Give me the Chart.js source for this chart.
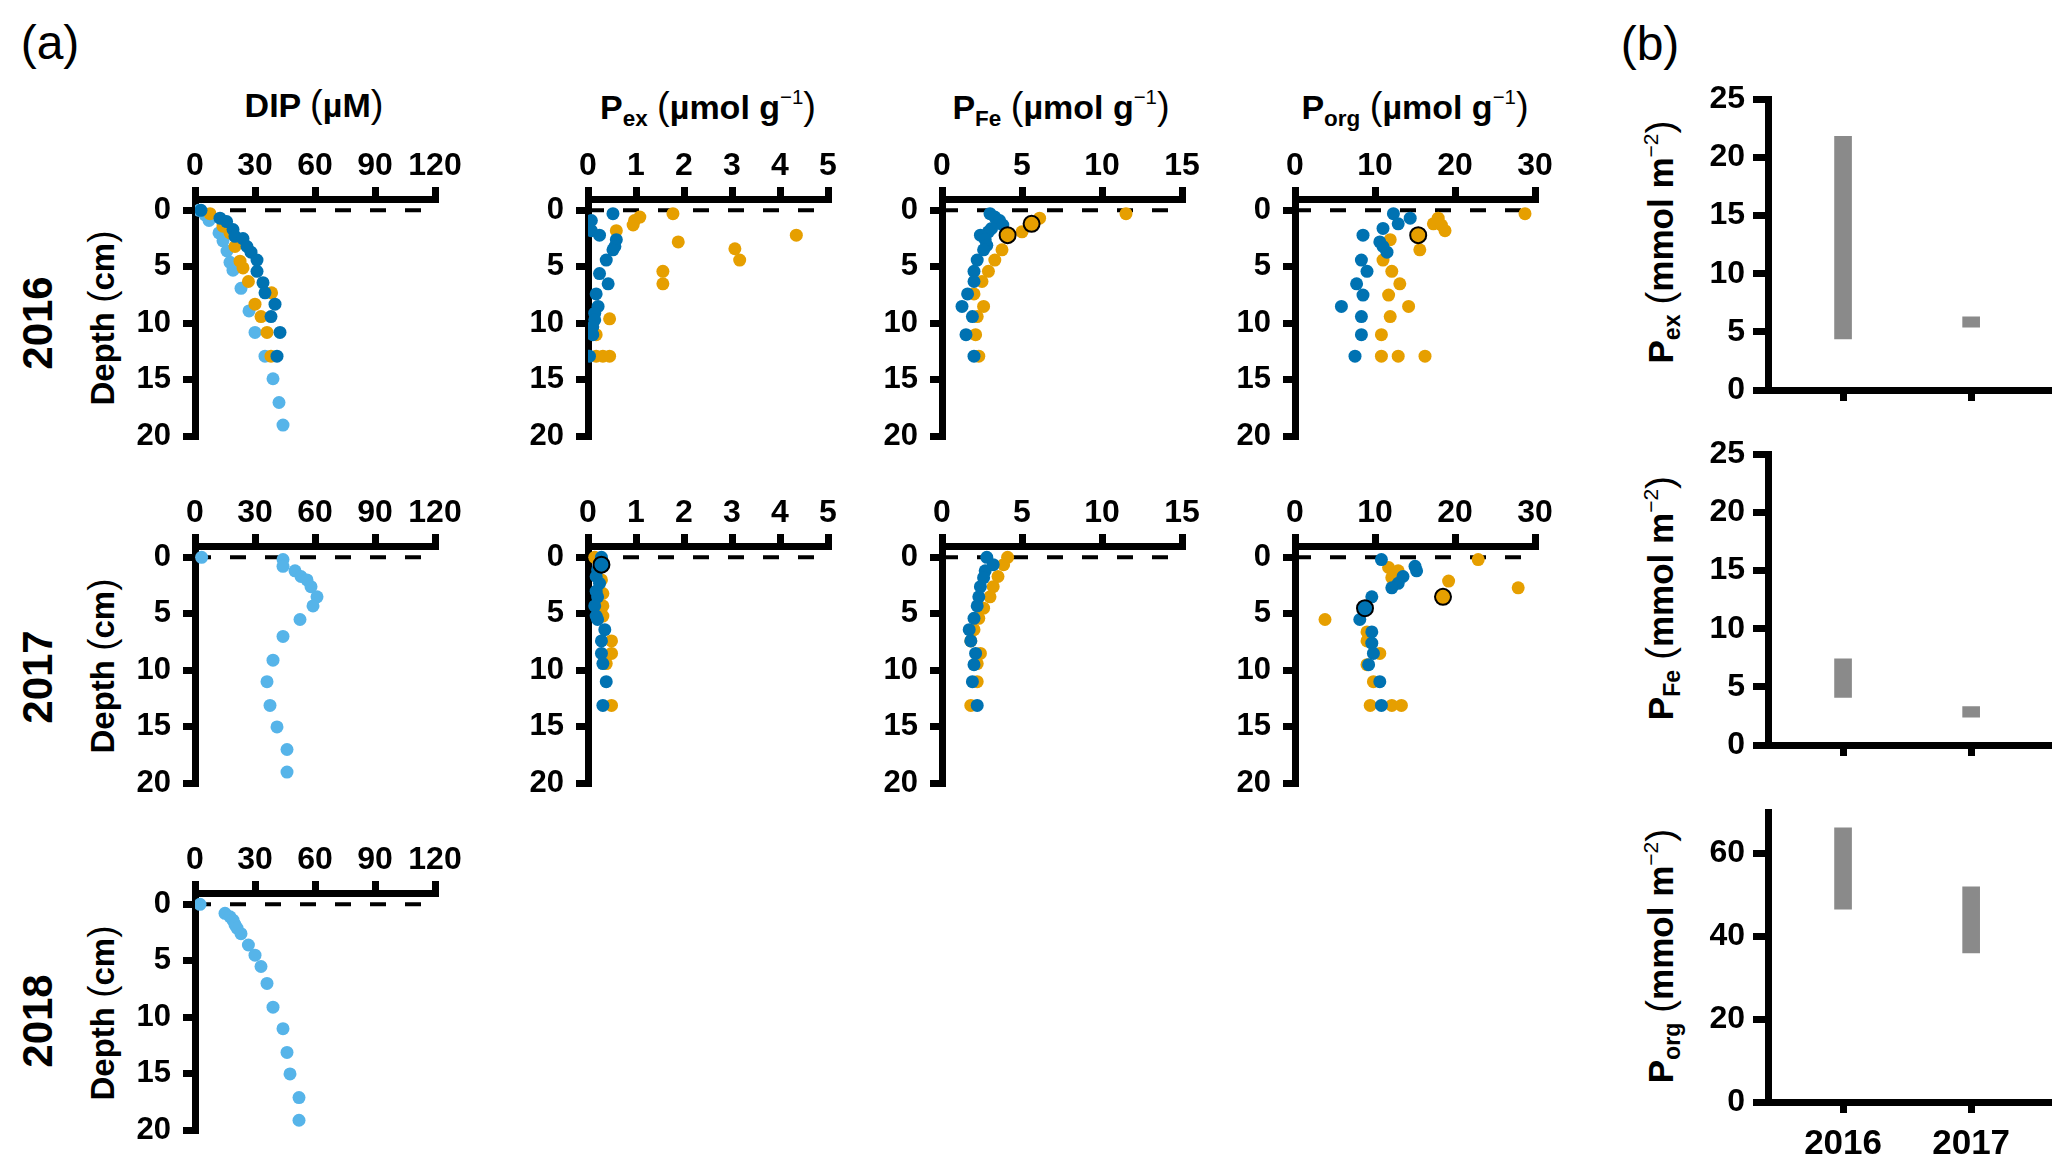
<!DOCTYPE html>
<html>
<head>
<meta charset="utf-8">
<script src="https://cdn.jsdelivr.net/npm/chart.js@4.4.1/dist/chart.umd.min.js"></script>
<style>
body{margin:0;width:2067px;height:1172px;background:#fff;position:relative;overflow:hidden;font-family:"Liberation Sans",Arial,sans-serif;color:#000;}
.box{position:absolute;}
.lbl{position:absolute;white-space:nowrap;transform:translate(-50%,-50%);line-height:1;}
.rot{transform:translate(-50%,-50%) rotate(-90deg);}
.tag{font-size:48px;font-weight:normal;}
.title{font-size:34px;font-weight:bold;}
.year{font-size:42px;font-weight:bold;}
.depth{font-size:33px;font-weight:bold;}
.btitle{font-size:35px;font-weight:bold;}
.par{font-weight:normal;font-size:1.12em;}
sub{font-size:0.66em;vertical-align:-0.3em;line-height:0;}
sup{font-size:0.6em;font-weight:normal;vertical-align:0.75em;line-height:0;}
</style>
</head>
<body>

<div class="lbl tag" style="left:50px;top:43px">(a)</div>
<div class="lbl tag" style="left:1650px;top:44px">(b)</div>

<div class="lbl title" style="left:314px;top:104px">DIP <span class="par">(</span>µM<span class="par">)</span></div>
<div class="lbl title" style="left:708px;top:106px">P<sub>ex</sub> <span class="par">(</span>µmol g<sup>−1</sup><span class="par">)</span></div>
<div class="lbl title" style="left:1061px;top:106px">P<sub>Fe</sub> <span class="par">(</span>µmol g<sup>−1</sup><span class="par">)</span></div>
<div class="lbl title" style="left:1415px;top:106px">P<sub>org</sub> <span class="par">(</span>µmol g<sup>−1</sup><span class="par">)</span></div>

<div class="lbl rot year" style="left:38px;top:323px">2016</div>
<div class="lbl rot year" style="left:38px;top:677px">2017</div>
<div class="lbl rot year" style="left:38px;top:1021px">2018</div>
<div class="lbl rot depth" style="left:102px;top:318px">Depth <span class="par">(</span>cm<span class="par">)</span></div>
<div class="lbl rot depth" style="left:102px;top:666px">Depth <span class="par">(</span>cm<span class="par">)</span></div>
<div class="lbl rot depth" style="left:102px;top:1013px">Depth <span class="par">(</span>cm<span class="par">)</span></div>

<div class="lbl rot btitle" style="left:1660px;top:242px">P<sub>ex</sub> <span class="par">(</span>mmol m<sup>−2</sup><span class="par">)</span></div>
<div class="lbl rot btitle" style="left:1660px;top:598px">P<sub>Fe</sub> <span class="par">(</span>mmol m<sup>−2</sup><span class="par">)</span></div>
<div class="lbl rot btitle" style="left:1660px;top:956px">P<sub>org</sub> <span class="par">(</span>mmol m<sup>−2</sup><span class="par">)</span></div>

<script>
// profile data: [value, depth in cm]
const dip16Light = [[2,0],[5,0.4],[7,0.9],[12,2.0],[14,2.7],[16,3.6],[17.5,4.6],[19,5.3],[23,6.9],[27,8.9],[30,10.8],[35,12.9],[39,14.9],[42,17],[44,19]];
const dip16Dark = [[3,0],[12.5,0.7],[15.8,1.0],[19,1.7],[20,2.3],[24,2.5],[26,3.2],[28,3.7],[31,4.4],[31,5.4],[34,6.4],[35,7.3],[40,8.3],[38,9.4],[42.5,10.8],[41,12.9]];
const dip16Orange = [[7.5,0.3],[14,1.4],[17.5,2.0],[20,3.2],[22.5,4.5],[24,5.1],[26.7,6.3],[38.3,7.3],[30,8.3],[33,9.4],[36,10.8],[38,12.9]];

const pex16Dark = [[0.52,0.3],[0.07,0.9],[0.07,1.8],[0.24,2.2],[0.59,2.6],[0.56,3.2],[0.52,3.5],[0.38,4.4],[0.24,5.6],[0.42,6.5],[0.17,7.4],[0.21,8.5],[0.14,9.1],[0.14,9.7],[0.1,10.3],[0.1,11],[0.03,12.9]];
const pex16Orange = [[1.77,0.3],[1.08,0.6],[0.97,0.9],[0.94,1.3],[0.59,1.8],[1.88,2.8],[4.34,2.2],[3.06,3.4],[3.16,4.4],[1.56,5.4],[1.56,6.5],[0.45,9.6],[0.17,11],[0.17,12.9],[0.45,12.9],[0.31,12.9]];

const pfe16Dark = [[3.0,0.3],[3.3,0.6],[3.6,0.9],[3.8,1.3],[3.1,1.6],[2.9,1.9],[2.4,2.2],[2.7,2.6],[2.8,3.1],[2.6,3.5],[2.2,4.4],[2.0,5.4],[2.0,6.3],[1.6,7.4],[1.25,8.5],[1.9,9.4],[1.5,11.0],[2.0,12.9]];
const pfe16Orange = [[11.5,0.3],[6.1,0.7],[5.0,1.9],[3.75,3.5],[3.3,4.4],[2.9,5.4],[2.5,6.3],[2.0,7.4],[2.6,8.5],[2.2,9.4],[2.1,11.0],[2.3,12.9]];
const pfe16OrangeRing = [[5.6,1.2],[4.1,2.2]];

const porg16Dark = [[12.3,0.3],[14.4,0.7],[12.9,1.2],[11.0,1.6],[8.5,2.2],[10.6,2.8],[11.0,3.2],[11.5,3.7],[8.3,4.4],[9.0,5.4],[7.7,6.5],[8.5,7.5],[5.8,8.5],[8.3,9.4],[8.3,11.0],[7.5,12.9]];
const porg16Orange = [[28.75,0.3],[17.9,0.7],[17.3,1.2],[18.3,1.3],[18.75,1.8],[11.9,2.6],[15.6,3.5],[11.0,4.4],[12.1,5.4],[13.1,6.5],[11.7,7.5],[14.2,8.5],[11.9,9.4],[10.8,11.0],[10.8,12.9],[12.9,12.9],[16.25,12.9]];
const porg16OrangeRing = [[15.4,2.2]];

const dip17Light = [[3.3,0],[44,0.2],[44,0.8],[50,1.2],[53,1.7],[56,2.0],[58,2.6],[61,3.5],[59,4.3],[52.5,5.5],[44,7.0],[39,9.1],[36,11.0],[37.5,13.1],[41,15],[46,17],[46,19]];

const pex17Dark = [[0.28,0],[0.2,1.1],[0.17,1.7],[0.24,2.3],[0.17,3.0],[0.2,3.5],[0.14,4.3],[0.17,5.2],[0.2,5.5],[0.35,6.4],[0.28,7.4],[0.28,8.5],[0.31,9.4],[0.38,11],[0.31,13.1]];
const pex17Orange = [[0.14,0],[0.28,2.0],[0.31,3.2],[0.31,4.3],[0.31,5.2],[0.49,7.4],[0.49,8.5],[0.38,9.4],[0.49,13.1]];
const pex17DarkRing = [[0.28,0.65]];

const pfe17Dark = [[2.8,0],[3.2,0.65],[2.7,1.2],[2.6,1.8],[2.4,2.6],[2.3,3.5],[2.2,4.3],[2.0,5.4],[1.7,6.4],[1.8,7.4],[2.1,8.5],[2.0,9.5],[1.9,11.0],[2.2,13.1]];
const pfe17Orange = [[4.1,0],[3.85,0.65],[3.5,1.7],[3.2,2.6],[3.0,3.5],[2.6,4.5],[2.3,5.4],[2.0,6.4],[1.8,7.4],[2.4,8.5],[2.2,9.4],[2.2,11.0],[1.8,13.1]];

const porg17Dark = [[10.8,0.2],[15,0.8],[15.2,1.2],[13.5,1.7],[12.9,2.3],[12.1,2.7],[9.6,3.5],[8.1,5.5],[9.6,6.6],[9.6,7.6],[9.8,8.5],[9.2,9.5],[10.6,11.0],[10.8,13.1]];
const porg17Orange = [[22.9,0.2],[11.7,0.9],[12.9,1.2],[12.1,1.8],[19.2,2.1],[27.9,2.7],[3.75,5.5],[9,6.6],[9,7.4],[10.6,8.5],[9.0,9.5],[9.8,11.0],[9.4,13.1],[12.1,13.1],[13.3,13.1]];
const porg17DarkRing = [[8.75,4.5]];
const porg17OrangeRing = [[18.5,3.5]];

const dip18Light = [[2.5,0],[15,0.8],[17.5,1.1],[19,1.4],[20,1.8],[21,2.1],[23,2.6],[26.7,3.6],[30,4.5],[33,5.5],[36,7.0],[39,9.1],[44,11.0],[46,13.1],[47.5,15],[52,17.1],[52,19.1]];

// inventories (b): floating bars low..high
const barYears = [2016, 2017];
const pexBarLow = [4.4, 5.4];
const pexBarHigh = [21.8, 6.3];
const pfeBarLow = [4.1, 2.4];
const pfeBarHigh = [7.4, 3.3];
const porgBarLow = [46.6, 36];
const porgBarHigh = [66.2, 52];

// ticks
const depthTicks = [0, 5, 10, 15, 20];
const dipTicks = [0, 30, 60, 90, 120];
const pexTicks = [0, 1, 2, 3, 4, 5];
const pfeTicks = [0, 5, 10, 15];
const porgTicks = [0, 10, 20, 30];
const invTicks = [0, 5, 10, 15, 20, 25];
const porgInvTicks = [0, 20, 40, 60];

const FONT = '"Liberation Sans", Arial, sans-serif';
const LIGHT = '#56B4E9';
const DARK = '#0072B2';
const ORANGE = '#E69F00';

const PAD_L = 90, PAD_T = 75, PAD_R = 45, PAD_B = 30;
const PLOT_W = 240, PLOT_H = 238;

function pts(a){
    return a.map(p => ({x: p[0], y: p[1]}));
}

function dots(data, color, order){
    return {type: 'scatter', data: pts(data), backgroundColor: color, borderWidth: 0, pointRadius: 6.5, order: order};
}

function ring(data, color){
    return {type: 'scatter', data: pts(data), backgroundColor: color, borderColor: '#000', borderWidth: 2, pointRadius: 8, order: 0};
}

function surface(xEnd){
    return {type: 'line', data: [{x: 0, y: 0}, {x: xEnd, y: 0}], borderColor: '#000', borderWidth: 4,
        borderDash: [16, 19], pointRadius: 0, order: 10, fill: false};
}

function addBox(left, top, w, h){
    const div = document.createElement('div');
    div.className = 'box';
    div.style.left = left + 'px';
    div.style.top = top + 'px';
    div.style.width = w + 'px';
    div.style.height = h + 'px';
    const cv = document.createElement('canvas');
    div.appendChild(cv);
    document.body.appendChild(div);
    return cv;
}

function tickSetter(list){
    return s => { s.ticks = list.map(v => ({value: v})); };
}

function depthPanel(x0, top, xMax, xTicks, dashEnd, sets){

    const cv = addBox(x0 - PAD_L, top - PAD_T, PAD_L + PLOT_W + PAD_R, PAD_T + PLOT_H + PAD_B);

    new Chart(cv, {
        type: 'scatter',
        data: { datasets: [surface(dashEnd)].concat(sets) },
        options: {
            responsive: true,
            maintainAspectRatio: false,
            animation: false,
            layout: { padding: { left: 0, top: 0, right: PAD_R, bottom: PAD_B } },
            plugins: { legend: { display: false }, tooltip: { enabled: false } },
            scales: {
                x: {
                    type: 'linear', position: 'top', min: 0, max: xMax,
                    afterBuildTicks: tickSetter(xTicks),
                    afterFit: s => { s.height = PAD_T; },
                    grid: { drawOnChartArea: false, color: '#000', lineWidth: 7, tickLength: 12 },
                    border: { color: '#000', width: 7 },
                    ticks: { color: '#000', font: { family: FONT, size: 32, weight: 'bold' }, padding: 2, maxRotation: 0, autoSkip: false }
                },
                y: {
                    type: 'linear', reverse: true, min: -1, max: 20,
                    afterBuildTicks: tickSetter(depthTicks),
                    afterFit: s => { s.width = PAD_L; },
                    grid: { drawOnChartArea: false, color: '#000', lineWidth: 7, tickLength: 12 },
                    border: { color: '#000', width: 7 },
                    ticks: { color: '#000', font: { family: FONT, size: 31, weight: 'bold' }, padding: 12, autoSkip: false }
                }
            }
        }
    });
}

const BAR_L = 110, BAR_T = 25, BAR_R = 12, BAR_B = 70;
const BAR_X0 = 1768, BAR_W = 280;

function barPanel(top, plotH, yMax, yTicks, low, high, showYears){

    const cv = addBox(BAR_X0 - BAR_L, top - BAR_T, BAR_L + BAR_W + BAR_R, BAR_T + plotH + BAR_B);

    new Chart(cv, {
        type: 'bar',
        data: {
            datasets: [{
                data: barYears.map((yr, i) => ({x: yr, y: [low[i], high[i]]})),
                backgroundColor: '#8a8a8a',
                borderWidth: 0,
                barThickness: 17
            }]
        },
        options: {
            responsive: true,
            maintainAspectRatio: false,
            animation: false,
            layout: { padding: { left: 0, top: BAR_T, right: BAR_R, bottom: 0 } },
            plugins: { legend: { display: false }, tooltip: { enabled: false } },
            scales: {
                x: {
                    type: 'linear', min: 2015.414, max: 2017.6, offset: false,
                    afterBuildTicks: tickSetter(barYears),
                    afterFit: s => { s.height = BAR_B; },
                    grid: { offset: false, drawOnChartArea: false, color: '#000', lineWidth: 7, tickLength: 11 },
                    border: { color: '#000', width: 7 },
                    ticks: { display: showYears, color: '#000', callback: v => String(v),
                        font: { family: FONT, size: 35, weight: 'bold' }, padding: 10, maxRotation: 0, autoSkip: false }
                },
                y: {
                    type: 'linear', min: 0, max: yMax,
                    afterBuildTicks: tickSetter(yTicks),
                    afterFit: s => { s.width = BAR_L; },
                    grid: { drawOnChartArea: false, color: '#000', lineWidth: 7, tickLength: 15 },
                    border: { color: '#000', width: 7 },
                    ticks: { color: '#000', font: { family: FONT, size: 32, weight: 'bold' }, padding: 8, autoSkip: false }
                }
            }
        }
    });
}

const COL_X = [195, 588, 942, 1295];
const ROW_TOP = [199, 546, 893];

depthPanel(COL_X[0], ROW_TOP[0], 120, dipTicks, 113, [
    dots(dip16Dark, DARK, 1), dots(dip16Orange, ORANGE, 2), dots(dip16Light, LIGHT, 3)
]);
depthPanel(COL_X[1], ROW_TOP[0], 5, pexTicks, 4.72, [
    dots(pex16Dark, DARK, 1), dots(pex16Orange, ORANGE, 2)
]);
depthPanel(COL_X[2], ROW_TOP[0], 15, pfeTicks, 14.3, [
    ring(pfe16OrangeRing, ORANGE), dots(pfe16Dark, DARK, 1), dots(pfe16Orange, ORANGE, 2)
]);
depthPanel(COL_X[3], ROW_TOP[0], 30, porgTicks, 28.3, [
    ring(porg16OrangeRing, ORANGE), dots(porg16Dark, DARK, 1), dots(porg16Orange, ORANGE, 2)
]);

depthPanel(COL_X[0], ROW_TOP[1], 120, dipTicks, 113, [
    dots(dip17Light, LIGHT, 1)
]);
depthPanel(COL_X[1], ROW_TOP[1], 5, pexTicks, 4.72, [
    ring(pex17DarkRing, DARK), dots(pex17Dark, DARK, 1), dots(pex17Orange, ORANGE, 2)
]);
depthPanel(COL_X[2], ROW_TOP[1], 15, pfeTicks, 14.3, [
    dots(pfe17Dark, DARK, 1), dots(pfe17Orange, ORANGE, 2)
]);
depthPanel(COL_X[3], ROW_TOP[1], 30, porgTicks, 28.3, [
    ring(porg17DarkRing, DARK), ring(porg17OrangeRing, ORANGE), dots(porg17Dark, DARK, 1), dots(porg17Orange, ORANGE, 2)
]);

depthPanel(COL_X[0], ROW_TOP[2], 120, dipTicks, 113, [
    dots(dip18Light, LIGHT, 1)
]);

barPanel(97, 293, 25, invTicks, pexBarLow, pexBarHigh, false);
barPanel(452, 293, 25, invTicks, pfeBarLow, pfeBarHigh, false);
barPanel(810, 292, 70, porgInvTicks, porgBarLow, porgBarHigh, true);
</script>
</body>
</html>
